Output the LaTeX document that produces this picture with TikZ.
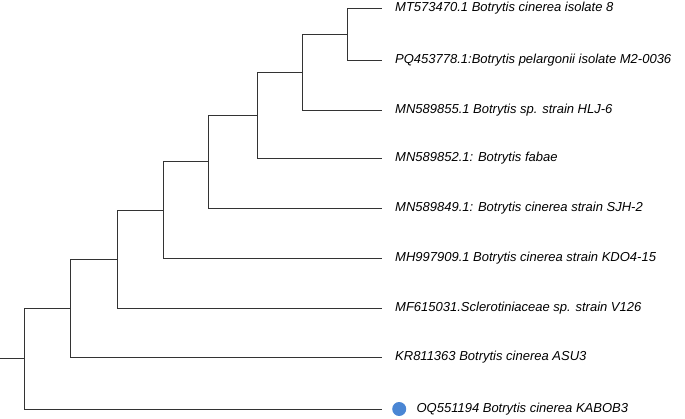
\documentclass[tikz,border=0pt]{standalone}
\usepackage{fontspec}
\setmainfont{Liberation Sans}
\usetikzlibrary{positioning}
\definecolor{tipdot}{RGB}{74,134,212}
\begin{document}
\begin{tikzpicture}[
    x=1pt, y=-1pt,
    leaf/.style={anchor=west, inner sep=0pt, font=\fontsize{13}{15}\selectfont\itshape},
    branch/.style={draw, thin, draw=black!80}
]
    \useasboundingbox (0,0) rectangle (685,419);
    % Leaves
    \coordinate (t1) at (382,8);
    \coordinate (t2) at (382,60);
    \coordinate (t3) at (382,110);
    \coordinate (t4) at (382,158);
    \coordinate (t5) at (382,208);
    \coordinate (t6) at (382,258);
    \coordinate (t7) at (382,308);
    \coordinate (t8) at (382,357);
    \coordinate (t9) at (382,409);
    \node[leaf, right=13pt of t1] (l1) {MT573470.1 Botrytis cinerea isolate 8};
    \node[leaf, right=13pt of t2] (l2) {PQ453778.1:Botrytis pelargonii isolate M2-0036};
    \node[leaf, right=13pt of t3] (l3) {MN589855.1 Botrytis sp. strain HLJ-6};
    \node[leaf, right=13pt of t4] (l4) {MN589852.1: Botrytis fabae};
    \node[leaf, right=13pt of t5] (l5) {MN589849.1: Botrytis cinerea strain SJH-2};
    \node[leaf, right=13pt of t6] (l6) {MH997909.1 Botrytis cinerea strain KDO4-15};
    \node[leaf, right=13pt of t7] (l7) {MF615031.Sclerotiniaceae sp. strain V126};
    \node[leaf, right=13pt of t8] (l8) {KR811363 Botrytis cinerea ASU3};
    \node[circle, fill=tipdot, inner sep=0pt, minimum size=14pt, right=10pt of t9] (dot) {};
    \node[leaf, right=10pt of dot] (l9) {OQ551194 Botrytis cinerea KABOB3};
    % Internal nodes
    \coordinate (g) at (347,34);
    \coordinate (f) at (302,72);
    \coordinate (e) at (257,115);
    \coordinate (d) at (208,161);
    \coordinate (c) at (163,210);
    \coordinate (b) at (117,259);
    \coordinate (a) at (70,308);
    \coordinate (r) at (24,358);
    \coordinate (base) at (0,358);
    % Branches
    \draw[branch] (g) |- (t1);
    \draw[branch] (g) |- (t2);
    \draw[branch] (f) |- (g);
    \draw[branch] (f) |- (t3);
    \draw[branch] (e) |- (f);
    \draw[branch] (e) |- (t4);
    \draw[branch] (d) |- (e);
    \draw[branch] (d) |- (t5);
    \draw[branch] (c) |- (d);
    \draw[branch] (c) |- (t6);
    \draw[branch] (b) |- (c);
    \draw[branch] (b) |- (t7);
    \draw[branch] (a) |- (b);
    \draw[branch] (a) |- (t8);
    \draw[branch] (r) |- (a);
    \draw[branch] (r) |- (t9);
    \draw[branch] (base) -- (r);
\end{tikzpicture}
\end{document}
